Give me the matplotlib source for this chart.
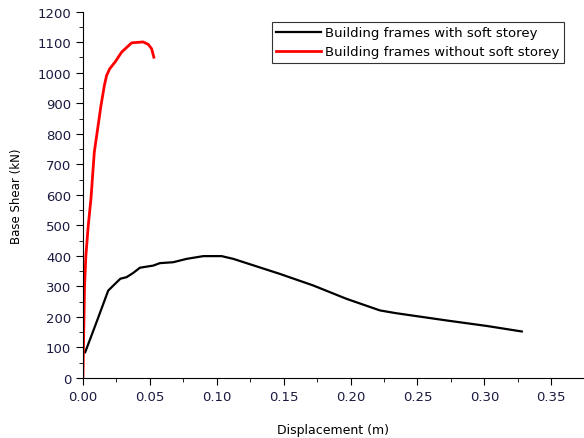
import matplotlib
matplotlib.use("Agg")
import matplotlib.pyplot as plt
from matplotlib.ticker import MultipleLocator

# with soft storey (black)
soft_x = [0.0017, 0.0102, 0.0189, 0.024, 0.028, 0.0326, 0.0376, 0.0426, 0.0526,
          0.0575, 0.0675, 0.0775, 0.090, 0.1036, 0.1124, 0.147, 0.172, 0.197,
          0.222, 0.234, 0.272, 0.302, 0.328]
soft_y = [84, 183, 286, 308, 325, 330, 344, 361, 368,
          376, 379, 390, 399, 399, 390, 341, 303, 259,
          221, 212, 188, 170, 152]

# without soft storey (red)
nosoft_x = [0.0, 0.0008, 0.0012, 0.0022, 0.004, 0.006, 0.0085, 0.011, 0.0135, 0.016,
            0.0177, 0.020, 0.024, 0.029, 0.0364, 0.045, 0.0488, 0.0513, 0.053]
nosoft_y = [0, 200, 300, 400, 500, 587, 740, 816, 893, 958,
            991, 1013, 1035, 1068, 1098, 1101, 1093, 1079, 1051]

labels = ["Building frames with soft storey", "Building frames without soft storey"]

fig = plt.figure(figsize=(5.84, 4.39), dpi=100)
ax = fig.add_axes([0.142, 0.137, 0.858, 0.834])

ax.plot(soft_x, soft_y, color="black", lw=1.6, label=labels[0])
ax.plot(nosoft_x, nosoft_y, color="#ff0000", lw=2.0, label=labels[1])

ax.set_xlim(0, 0.3745)
ax.set_ylim(0, 1200)
ax.xaxis.set_major_locator(MultipleLocator(0.05))
ax.xaxis.set_minor_locator(MultipleLocator(0.025))
ax.yaxis.set_major_locator(MultipleLocator(100))
ax.yaxis.set_minor_locator(MultipleLocator(50))
ax.xaxis.set_major_formatter(matplotlib.ticker.FormatStrFormatter("%.2f"))

for s in ["top", "right"]:
    ax.spines[s].set_visible(False)
ax.tick_params(which="major", direction="out", length=5, labelsize=9.5, colors="#1a1a40")
ax.tick_params(which="minor", direction="out", length=3)
ax.tick_params(axis="both", which="both", color="black")

ax.set_xlabel("Displacement (m)", fontsize=9, labelpad=15)
ax.set_ylabel("Base Shear (kN)", fontsize=8.5, labelpad=10)

leg = ax.legend(loc="upper left", bbox_to_anchor=(0.377, 0.973), fontsize=9.5,
                frameon=True, fancybox=False, framealpha=1, edgecolor="#333333",
                handlelength=3.4, borderpad=0.35, labelspacing=0.45, handletextpad=0.3,
                borderaxespad=0)
leg.get_frame().set_linewidth(0.8)

fig.savefig("out.png", dpi=100)
